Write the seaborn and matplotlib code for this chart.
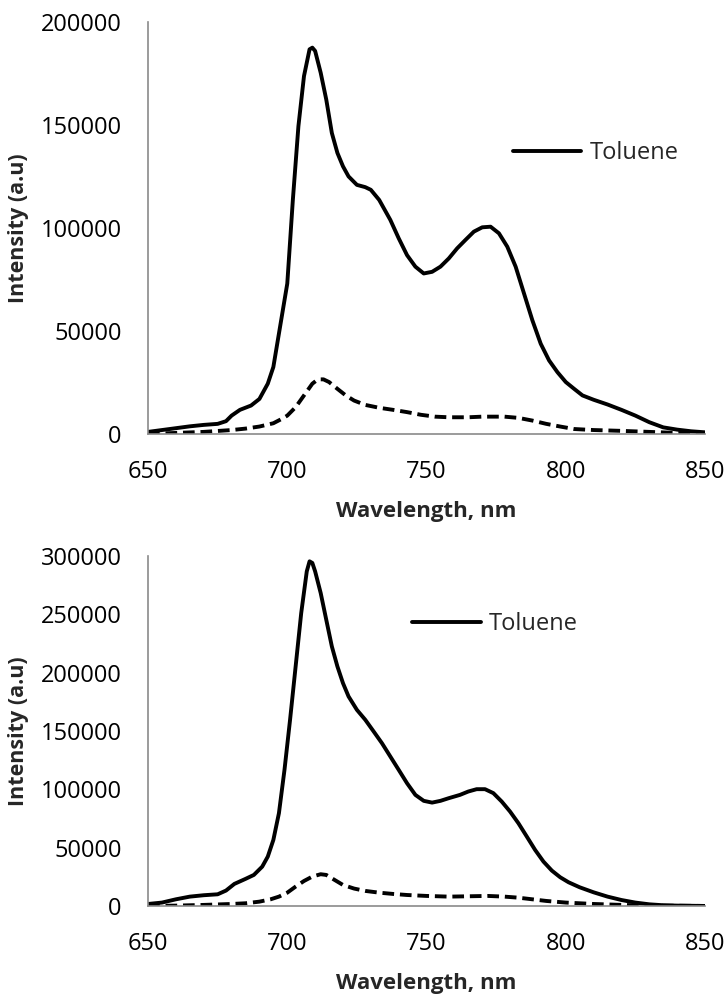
import pandas as pd
import seaborn as sns
import matplotlib.pyplot as plt
from matplotlib.lines import Line2D

# Top panel: solid curve
top_solid_x = [650, 660, 665, 670, 675, 678, 680, 683, 687, 690, 693, 695, 697, 700, 702, 704, 706, 708,
               709, 710, 712, 714, 716, 718, 720, 722, 725, 728, 730, 733, 737, 740, 743, 746, 749, 752,
               755, 758, 761, 764, 767, 770, 773, 776, 779, 782, 785, 788, 791, 794, 797, 800, 803, 806,
               810, 815, 820, 825, 830, 835, 840, 845, 850]
top_solid_y = [1000, 2800, 3700, 4400, 4900, 6200, 8900, 11700, 13800, 17000, 24400, 32500, 48700, 73000,
               113600, 149400, 173700, 186700, 187500, 185900, 175300, 162300, 146100, 136400, 129900,
               125000, 120900, 119800, 118500, 113600, 103900, 95000, 86800, 81200, 77900, 78700, 81200,
               85200, 90100, 94200, 98200, 100300, 100600, 97400, 90900, 81200, 68200, 55200, 43800, 35700,
               30000, 25200, 21900, 18700, 16600, 14300, 11700, 8900, 5700, 3200, 2100, 1300, 800]

# Top panel: dashed curve
top_dash_x = [650, 660, 670, 680, 685, 690, 695, 698, 700, 703, 706, 709, 711, 713, 715, 718, 721, 724,
              728, 733, 738, 743, 748, 753, 758, 765, 770, 778, 783, 788, 793, 798, 803, 810, 820, 830,
              840, 850]
top_dash_y = [0, 500, 1000, 1900, 2600, 3600, 5200, 7300, 8900, 13000, 18700, 24400, 26500, 26500, 25200,
              21900, 18700, 16200, 14100, 12700, 11700, 10600, 9300, 8400, 8100, 8100, 8400, 8400, 7800,
              6500, 4900, 3600, 2400, 1900, 1500, 1000, 500, 300]

# Bottom panel: solid curve
bot_solid_x = [650, 655, 660, 665, 670, 675, 678, 681, 685, 688, 691, 693, 695, 697, 699, 701, 703, 705,
               707, 708, 709, 710, 712, 714, 716, 718, 720, 722, 725, 728, 731, 734, 737, 740, 743, 746,
               749, 752, 755, 758, 762, 765, 768, 771, 774, 777, 780, 783, 786, 789, 792, 795, 798, 801,
               805, 810, 815, 820, 825, 830, 835, 840, 850]
bot_solid_y = [1700, 2900, 5700, 8000, 9200, 10000, 13200, 18900, 23200, 26600, 33700, 42300, 56600, 79500,
               116700, 159600, 205300, 251000, 286800, 295400, 294000, 286800, 268200, 245300, 222500,
               205300, 191000, 179600, 168100, 159600, 149600, 139500, 128100, 116700, 105200, 95200,
               90100, 88600, 90100, 92400, 95200, 98100, 100100, 100100, 96700, 89500, 80900, 70900, 59500,
               48000, 38000, 30300, 24600, 20300, 16000, 11700, 8000, 5100, 2900, 1400, 600, 300, 0]

# Bottom panel: dashed curve
bot_dash_x = [650, 660, 670, 680, 685, 690, 694, 697, 700, 703, 706, 709, 712, 714, 717, 720, 724, 728,
              733, 738, 743, 750, 758, 765, 772, 778, 783, 788, 793, 800, 810, 820, 830, 850]
bot_dash_y = [0, 300, 900, 1700, 2300, 3700, 5700, 8000, 11400, 16600, 21400, 25200, 27200, 26600, 22300,
              18000, 14900, 12900, 11400, 10300, 9400, 8600, 8000, 8300, 8600, 8000, 7100, 5700, 4300, 2900,
              1700, 900, 300, 0]

legend_label = "Toluene"

sns.set_style("white")
plt.rcParams["font.family"] = ["Open Sans", "DejaVu Sans"]

fig = plt.figure(figsize=(7.26, 9.96), dpi=100)
ax_top = fig.add_axes([0.2039, 0.5643, 0.7672, 0.4137])
ax_bot = fig.add_axes([0.2039, 0.0904, 0.7672, 0.3514])

panels = [
    (ax_top, top_solid_x, top_solid_y, top_dash_x, top_dash_y, 200000, (0.655, 0.681)),
    (ax_bot, bot_solid_x, bot_solid_y, bot_dash_x, bot_dash_y, 300000, (0.474, 0.806)),
]

for ax, sx, sy, dx, dy, ymax, leg_pos in panels:
    sns.lineplot(x=sx, y=sy, ax=ax, color="black", linewidth=2.8)
    sns.lineplot(x=dx, y=dy, ax=ax, color="black", linewidth=2.8, linestyle=(0, (3, 1.5)))

    ax.set_xlim(650, 850)
    ax.set_ylim(0, ymax)
    ax.set_xticks(range(650, 851, 50))
    ax.set_yticks(range(0, ymax + 1, 50000))

    for side in ["top", "right"]:
        ax.spines[side].set_visible(False)
    for side in ["left", "bottom"]:
        ax.spines[side].set_color("#8a8a8a")
        ax.spines[side].set_linewidth(1.2)

    ax.tick_params(axis="both", which="major", direction="out", length=6, width=1.2,
                   color="#8a8a8a", labelsize=17, labelcolor="black")
    ax.tick_params(axis="x", pad=13)
    ax.tick_params(axis="y", pad=13)

    ax.set_xlabel("Wavelength, nm", fontsize=16, fontweight="bold", labelpad=12)
    ax.set_ylabel("Intensity (a.u)", fontsize=15.5, fontweight="bold", labelpad=8)

    handle = Line2D([], [], color="black", linewidth=2.8)
    ax.legend([handle], [legend_label], loc="center left", bbox_to_anchor=leg_pos,
              frameon=False, fontsize=17, handlelength=2.9, handletextpad=0.35,
              borderpad=0, borderaxespad=0)

plt.savefig("out.png", dpi=100)
